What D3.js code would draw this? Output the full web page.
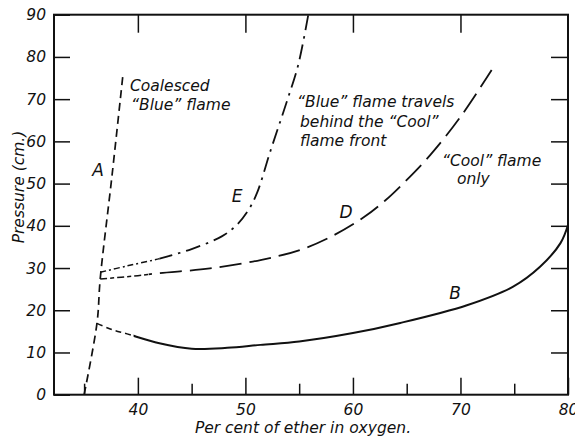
<!DOCTYPE html>
<html lang="en">

<head>
    <meta charset="UTF-8">
    <title>Pressure vs per cent of ether in oxygen</title>
    <script src="https://d3js.org/d3.v7.min.js"></script>
    <style>
        body {
            margin: 0;
            background: #fff;
        }

        svg text {
            font-family: "DejaVu Sans", sans-serif;
            font-style: italic;
            fill: #111;
        }

        .tick line {
            stroke: #111;
            stroke-width: 1.5;
        }
    </style>
</head>

<body>
    <div id="chart"></div>

    <script>
        // Values (x = per cent ether, y = pressure in cm)
        const xTickLabels = [40, 50, 60, 70, 80];
        const xMinorTicks = [35, 45, 55, 65, 75];
        const xTopTicks = [40, 50, 60, 70];
        const yTickLabels = [0, 10, 20, 30, 40, 50, 60, 70, 80, 90];
        const ySideTicks = [10, 20, 30, 40, 50, 60, 70, 80];

        const curveA = [[35.0, 0], [36.2, 17], [36.5, 27.5], [37.6, 52], [38.6, 75.5]];
        const curveB = [[36.2, 16.9], [37.5, 15.5], [39, 14.4], [42, 12.2], [45, 10.9], [48.3, 11.1],
            [51.4, 11.8], [55, 12.6], [60, 14.6], [64.4, 17.0], [70.6, 21.2], [74.9, 25.6],
            [77.4, 30.3], [79.3, 35.9], [80, 40.2]];
        const curveD = [[36.5, 27.4], [40, 28.2], [42, 28.8], [46.7, 29.9], [51.4, 31.9], [55.1, 34.3],
            [58.1, 37.6], [61, 42], [63, 46], [64.7, 50.1], [67.2, 56.8], [70, 65.8], [72.9, 76.9]];
        const curveE = [[36.5, 29], [39, 30.5], [42.1, 32.3], [45, 34.5], [47.8, 37.5], [49.2, 40.2],
            [50.3, 43.8], [51.1, 47.9], [52.3, 57.5], [53.9, 69.8], [54.9, 78], [55.85, 90]];

        const width = 575, height = 438;

        const x = d3.scaleLinear().domain([32.2, 80]).range([54, 568]);
        const y = d3.scaleLinear().domain([0, 90]).range([394.7, 14.7]);

        const svg = d3.select("#chart")
            .append("svg")
            .attr("width", width)
            .attr("height", height);

        // axes, ticks pointing inward
        svg.append("g")
            .attr("transform", `translate(${x(32.2)},0)`)
            .call(d3.axisLeft(y).tickValues(yTickLabels).tickSize(-16).tickPadding(8))
            .call(g => g.select(".domain").remove())
            .call(g => g.selectAll("text").attr("font-size", 15.5));

        svg.append("g")
            .attr("transform", `translate(${x(80)},0)`)
            .call(d3.axisRight(y).tickValues(ySideTicks).tickSize(-17).tickFormat(""))
            .call(g => g.select(".domain").remove());

        svg.append("g")
            .attr("transform", `translate(0,${y(0)})`)
            .call(d3.axisBottom(x).tickValues(xTickLabels).tickSize(-17).tickPadding(9.5))
            .call(g => g.select(".domain").remove())
            .call(g => g.selectAll("text").attr("font-size", 15.5));

        svg.append("g")
            .attr("transform", `translate(0,${y(0)})`)
            .call(d3.axisBottom(x).tickValues(xMinorTicks).tickSize(-11).tickFormat(""))
            .call(g => g.select(".domain").remove());

        svg.append("g")
            .attr("transform", `translate(0,${y(90)})`)
            .call(d3.axisTop(x).tickValues(xTopTicks).tickSize(-18).tickFormat(""))
            .call(g => g.select(".domain").remove());

        svg.selectAll(".tick text").attr("fill", "#111");

        // frame
        svg.append("rect")
            .attr("x", x(32.2))
            .attr("y", y(90))
            .attr("width", x(80) - x(32.2))
            .attr("height", y(0) - y(90))
            .attr("fill", "none")
            .attr("stroke", "#111")
            .attr("stroke-width", 2);

        const line = d3.line()
            .x(d => x(d[0]))
            .y(d => y(d[1]))
            .curve(d3.curveCatmullRom.alpha(0.5));

        // clip regions so the start of B, D, E can be dashed differently
        const defs = svg.append("defs");
        function clip(id, x0, x1) {
            defs.append("clipPath").attr("id", id)
                .append("rect")
                .attr("x", x(x0)).attr("y", 0)
                .attr("width", x(x1) - x(x0)).attr("height", height);
        }
        clip("leadB", 32.2, 39.6); clip("mainB", 39.6, 85);
        clip("leadD", 32.2, 41); clip("mainD", 41, 85);
        clip("leadE", 32.2, 42); clip("mainE", 42, 85);

        const curves = [
            { data: curveB, lead: "leadB", main: "mainB", leadDash: "6,4", mainDash: null, w: 2 },
            { data: curveD, lead: "leadD", main: "mainD", leadDash: "7,3,4,3", mainDash: "22,8", w: 1.8 },
            { data: curveE, lead: "leadE", main: "mainE", leadDash: "6,3,2,3", mainDash: "15,6,2.5,6", w: 1.8 }
        ];

        curves.forEach(c => {
            svg.append("path")
                .attr("d", line(c.data))
                .attr("fill", "none")
                .attr("stroke", "#111")
                .attr("stroke-width", 1.5)
                .attr("stroke-dasharray", c.leadDash)
                .attr("clip-path", `url(#${c.lead})`);
            svg.append("path")
                .attr("d", line(c.data))
                .attr("fill", "none")
                .attr("stroke", "#111")
                .attr("stroke-width", c.w)
                .attr("stroke-dasharray", c.mainDash)
                .attr("clip-path", `url(#${c.main})`);
        });

        svg.append("path")
            .attr("d", line(curveA))
            .attr("fill", "none")
            .attr("stroke", "#111")
            .attr("stroke-width", 1.7)
            .attr("stroke-dasharray", "8,5");

        // curve letters
        const letters = [["A", 98, 176], ["E", 237, 202], ["D", 346, 218], ["B", 455, 299]];
        svg.selectAll(".letter")
            .data(letters)
            .enter().append("text")
            .attr("class", "letter")
            .attr("x", d => d[1])
            .attr("y", d => d[2])
            .attr("text-anchor", "middle")
            .attr("font-size", 17)
            .text(d => d[0]);

        // annotations
        const notes = [
            ["Coalesced", 130, 91],
            ["\u201cBlue\u201d flame", 131, 110],
            ["\u201cBlue\u201d flame travels", 297, 107],
            ["behind the \u201cCool\u201d", 300, 127],
            ["flame front", 300, 146],
            ["\u201cCool\u201d flame", 442, 166],
            ["only", 457, 184]
        ];
        svg.selectAll(".note")
            .data(notes)
            .enter().append("text")
            .attr("class", "note")
            .attr("x", d => d[1])
            .attr("y", d => d[2])
            .attr("font-size", 15.5)
            .text(d => d[0]);

        // axis titles
        svg.append("text")
            .attr("transform", "translate(24,187) rotate(-90)")
            .attr("text-anchor", "middle")
            .attr("font-size", 15.5)
            .text("Pressure (cm.)");

        svg.append("text")
            .attr("x", 303)
            .attr("y", 433)
            .attr("text-anchor", "middle")
            .attr("font-size", 15.5)
            .text("Per cent of ether in oxygen.");
    </script>
</body>

</html>
